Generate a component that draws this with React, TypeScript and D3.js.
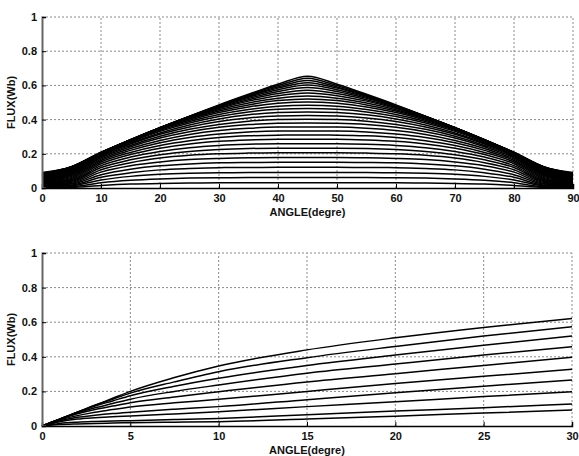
import React, { useEffect, useRef } from 'react';
import * as d3 from 'd3';

// upper panel: flux vs angle, one row per current step, read at 0..45 deg.
// the figure is symmetric about the aligned position (45 deg), so 50..90 is the mirror.
const topAngles = [0, 5, 10, 15, 20, 25, 30, 35, 40, 45];
const topFlux = [
  [0.003, 0.004, 0.015, 0.023, 0.027, 0.029, 0.030, 0.030, 0.030, 0.030],
  [0.006, 0.008, 0.031, 0.045, 0.053, 0.058, 0.060, 0.061, 0.061, 0.061],
  [0.009, 0.013, 0.047, 0.068, 0.080, 0.086, 0.089, 0.091, 0.091, 0.091],
  [0.012, 0.018, 0.063, 0.089, 0.106, 0.114, 0.119, 0.120, 0.121, 0.121],
  [0.015, 0.023, 0.078, 0.110, 0.130, 0.141, 0.147, 0.149, 0.150, 0.150],
  [0.018, 0.028, 0.093, 0.130, 0.152, 0.166, 0.173, 0.177, 0.178, 0.178],
  [0.021, 0.033, 0.107, 0.148, 0.175, 0.191, 0.200, 0.204, 0.206, 0.206],
  [0.024, 0.039, 0.120, 0.165, 0.195, 0.214, 0.225, 0.231, 0.233, 0.233],
  [0.027, 0.044, 0.131, 0.181, 0.214, 0.236, 0.249, 0.256, 0.259, 0.259],
  [0.030, 0.050, 0.142, 0.196, 0.233, 0.258, 0.273, 0.281, 0.285, 0.285],
  [0.033, 0.056, 0.152, 0.208, 0.249, 0.277, 0.295, 0.305, 0.309, 0.310],
  [0.036, 0.062, 0.161, 0.220, 0.265, 0.296, 0.316, 0.328, 0.333, 0.334],
  [0.039, 0.068, 0.169, 0.231, 0.278, 0.313, 0.336, 0.349, 0.356, 0.357],
  [0.042, 0.074, 0.177, 0.241, 0.292, 0.329, 0.355, 0.371, 0.378, 0.380],
  [0.045, 0.079, 0.182, 0.249, 0.303, 0.343, 0.372, 0.391, 0.400, 0.402],
  [0.048, 0.084, 0.188, 0.257, 0.314, 0.357, 0.389, 0.410, 0.421, 0.424],
  [0.051, 0.089, 0.192, 0.263, 0.322, 0.369, 0.404, 0.428, 0.441, 0.445],
  [0.054, 0.094, 0.196, 0.269, 0.331, 0.380, 0.418, 0.445, 0.460, 0.465],
  [0.057, 0.099, 0.199, 0.273, 0.337, 0.389, 0.430, 0.459, 0.478, 0.484],
  [0.060, 0.104, 0.201, 0.276, 0.342, 0.396, 0.441, 0.474, 0.495, 0.503],
  [0.063, 0.108, 0.203, 0.279, 0.346, 0.403, 0.450, 0.486, 0.511, 0.521],
  [0.066, 0.112, 0.204, 0.280, 0.348, 0.408, 0.458, 0.497, 0.525, 0.538],
  [0.069, 0.115, 0.205, 0.282, 0.351, 0.412, 0.465, 0.508, 0.540, 0.555],
  [0.072, 0.118, 0.206, 0.282, 0.352, 0.415, 0.470, 0.516, 0.552, 0.571],
  [0.075, 0.120, 0.206, 0.282, 0.353, 0.417, 0.475, 0.524, 0.564, 0.587],
  [0.078, 0.122, 0.207, 0.282, 0.353, 0.418, 0.478, 0.531, 0.575, 0.602],
  [0.081, 0.123, 0.207, 0.281, 0.352, 0.418, 0.480, 0.536, 0.584, 0.616],
  [0.084, 0.124, 0.207, 0.280, 0.351, 0.418, 0.481, 0.540, 0.591, 0.629],
  [0.087, 0.125, 0.208, 0.280, 0.351, 0.419, 0.483, 0.544, 0.599, 0.642],
  [0.090, 0.125, 0.209, 0.281, 0.352, 0.420, 0.486, 0.548, 0.607, 0.654],
];

// lower panel: 0..30 deg, ten curves fanning out of the origin
const bottomAngles = [0, 1, 2, 3, 4, 5, 7.5, 10, 15, 20, 25, 30];
const bottomFlux = [
  [0, 0.008, 0.012, 0.015, 0.017, 0.019, 0.022, 0.025, 0.040, 0.057, 0.075, 0.092],
  [0, 0.015, 0.022, 0.026, 0.029, 0.031, 0.037, 0.044, 0.065, 0.086, 0.106, 0.127],
  [0, 0.025, 0.040, 0.048, 0.054, 0.058, 0.070, 0.083, 0.112, 0.140, 0.170, 0.198],
  [0, 0.030, 0.050, 0.062, 0.072, 0.080, 0.097, 0.112, 0.152, 0.192, 0.230, 0.266],
  [0, 0.035, 0.060, 0.080, 0.095, 0.110, 0.134, 0.154, 0.200, 0.245, 0.287, 0.328],
  [0, 0.038, 0.070, 0.095, 0.115, 0.135, 0.168, 0.198, 0.255, 0.302, 0.350, 0.397],
  [0, 0.040, 0.075, 0.105, 0.130, 0.155, 0.200, 0.237, 0.305, 0.358, 0.410, 0.458],
  [0, 0.040, 0.080, 0.115, 0.145, 0.175, 0.230, 0.276, 0.350, 0.410, 0.467, 0.520],
  [0, 0.040, 0.080, 0.120, 0.155, 0.190, 0.255, 0.314, 0.395, 0.460, 0.520, 0.574],
  [0, 0.040, 0.080, 0.120, 0.160, 0.200, 0.280, 0.347, 0.440, 0.510, 0.570, 0.622],
];

const topXTicks = [0, 10, 20, 30, 40, 50, 60, 70, 80, 90];
const bottomXTicks = [0, 5, 10, 15, 20, 25, 30];
const yTicks = [0, 0.2, 0.4, 0.6, 0.8, 1];

const FONT = 'Arial, "Liberation Sans", sans-serif';

const drawPanel = (svg, cfg) => {
  const { left, right, top, bottom, xMax, xTicks, series } = cfg;
  const x = d3.scaleLinear().domain([0, xMax]).range([left, right]);
  const y = d3.scaleLinear().domain([0, 1]).range([bottom, top]);
  const g = svg.append('g');

  // dotted grid
  g.selectAll('.vgrid')
    .data(xTicks.filter(d => d > 0))
    .enter()
    .append('line')
    .attr('x1', d => x(d)).attr('x2', d => x(d))
    .attr('y1', bottom).attr('y2', top)
    .attr('stroke', '#8a8a8a')
    .attr('stroke-width', 1)
    .attr('stroke-dasharray', '2,2');
  g.selectAll('.hgrid')
    .data(yTicks.filter(d => d > 0))
    .enter()
    .append('line')
    .attr('x1', left).attr('x2', right)
    .attr('y1', d => y(d)).attr('y2', d => y(d))
    .attr('stroke', '#8a8a8a')
    .attr('stroke-width', 1)
    .attr('stroke-dasharray', '2,2');

  const line = d3.line()
    .x(d => x(d[0]))
    .y(d => y(d[1]))
    .curve(d3.curveMonotoneX);

  g.selectAll('.curve')
    .data(series)
    .enter()
    .append('path')
    .attr('d', d => line(d))
    .attr('fill', 'none')
    .attr('stroke', '#000')
    .attr('stroke-width', 1.5);

  // axes (MATLAB style: inward ticks, left + bottom only)
  const xAxis = g.append('g')
    .attr('transform', `translate(0,${bottom})`)
    .call(d3.axisBottom(x).tickValues(xTicks).tickSize(-4).tickPadding(6).tickFormat(d3.format('~g')));
  xAxis.select('.domain').attr('stroke', '#000').attr('stroke-width', 1.5);
  xAxis.selectAll('.tick line').attr('stroke', '#000');
  xAxis.selectAll('text')
    .attr('font-family', FONT).attr('font-size', 11).attr('font-weight', 'bold').attr('fill', '#111');

  const yAxis = g.append('g')
    .attr('transform', `translate(${left},0)`)
    .call(d3.axisLeft(y).tickValues(yTicks).tickSize(-4).tickPadding(5).tickFormat(d3.format('~g')));
  yAxis.select('.domain').attr('stroke', '#666').attr('stroke-width', 2);
  yAxis.selectAll('.tick line').attr('stroke', '#000');
  yAxis.selectAll('text')
    .attr('font-family', FONT).attr('font-size', 11).attr('font-weight', 'bold').attr('fill', '#111');

  g.append('text')
    .attr('x', (left + right) / 2)
    .attr('y', bottom + 28)
    .attr('text-anchor', 'middle')
    .attr('font-family', FONT)
    .attr('font-size', 11)
    .attr('font-weight', 'bold')
    .attr('fill', '#111')
    .text('ANGLE(degre)');

  g.append('text')
    .attr('transform', `translate(15,${(top + bottom) / 2}) rotate(-90)`)
    .attr('text-anchor', 'middle')
    .attr('font-family', FONT)
    .attr('font-size', 11)
    .attr('font-weight', 'bold')
    .attr('fill', '#111')
    .text('FLUX(Wb)');
};

export const FluxCharts = () => {
  const svgRef = useRef(null);

  useEffect(() => {
    const svg = d3.select(svgRef.current);
    svg.selectAll('*').remove();

    // mirror the 0..45 half about 45 deg
    const fullAngles = topAngles.concat(topAngles.slice(0, -1).reverse().map(a => 90 - a));
    const topSeries = topFlux.map(row =>
      fullAngles.map((a, i) => [a, i < row.length ? row[i] : row[row.length - 1 - (i - row.length + 1)]])
    );
    const bottomSeries = bottomFlux.map(row => bottomAngles.map((a, i) => [a, row[i]]));

    drawPanel(svg, { left: 42, right: 573, top: 17, bottom: 188, xMax: 90, xTicks: topXTicks, series: topSeries });
    drawPanel(svg, { left: 42, right: 572, top: 253, bottom: 426, xMax: 30, xTicks: bottomXTicks, series: bottomSeries });
  }, []);

  return (
    <div style={{ position: 'absolute', left: 0, top: 0, background: '#fff' }}>
      <svg ref={svgRef} width={579} height={456} style={{ display: 'block' }}></svg>
    </div>
  );
};

export default FluxCharts;
